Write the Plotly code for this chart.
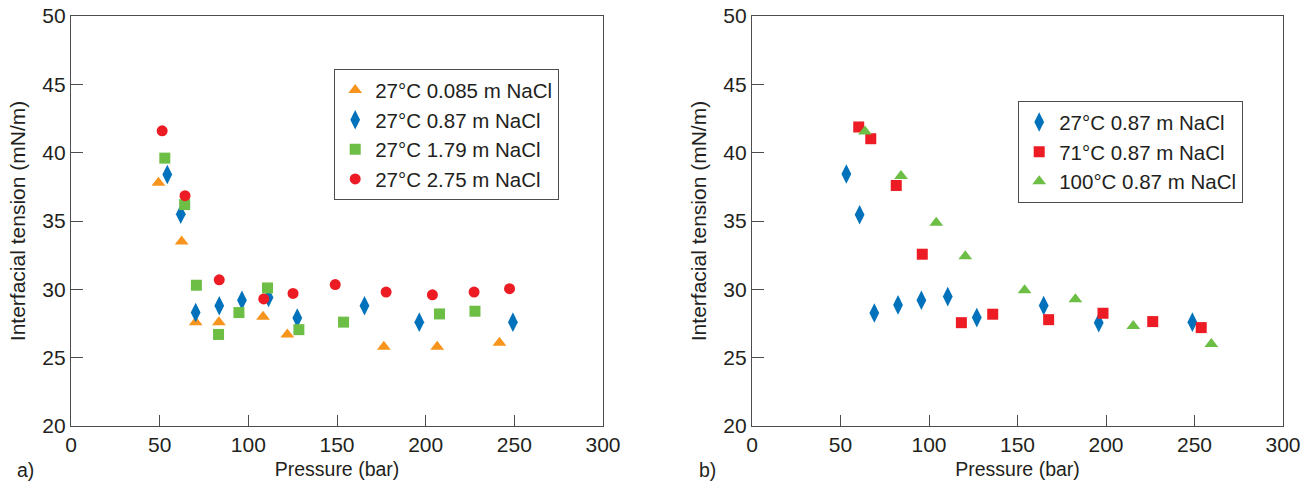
import plotly.graph_objects as go

# ---- data: panel a) ----
a_0085_p = [49.3, 62.4, 70.3, 83.4, 108.3, 122.0, 176.4, 206.5, 241.6]
a_0085_t = [37.8, 33.5, 27.6, 27.6, 28.0, 26.7, 25.8, 25.8, 26.1]

a_087_p = [54.3, 61.9, 70.3, 83.6, 96.4, 111.4, 127.6, 165.5, 196.4, 249.2]
a_087_t = [38.4, 35.5, 28.3, 28.8, 29.2, 29.4, 27.9, 28.8, 27.6, 27.6]

a_179_p = [52.9, 64.1, 70.7, 83.2, 94.7, 110.8, 128.5, 153.7, 207.8, 227.8]
a_179_t = [39.6, 36.2, 30.3, 26.7, 28.3, 30.1, 27.05, 27.6, 28.2, 28.4]

a_275_p = [51.4, 64.3, 83.6, 108.7, 125.2, 149.0, 177.7, 203.8, 227.3, 247.3]
a_275_t = [41.6, 36.85, 30.7, 29.3, 29.7, 30.35, 29.8, 29.6, 29.8, 30.05]

# ---- data: panel b) ----
b_27_p = [53.3, 60.8, 69.1, 82.5, 95.7, 110.6, 127.0, 164.8, 195.9, 248.8]
b_27_t = [38.44, 35.46, 28.27, 28.86, 29.2, 29.47, 27.93, 28.81, 27.56, 27.6]

b_71_p = [60.3, 67.1, 81.5, 96.2, 118.3, 136.0, 167.6, 198.3, 226.4, 253.8]
b_71_t = [41.88, 41.02, 37.6, 32.57, 27.56, 28.18, 27.78, 28.25, 27.64, 27.2]

b_100_p = [63.8, 84.2, 104.1, 120.5, 154.0, 182.7, 215.4, 259.5]
b_100_t = [41.54, 38.3, 34.88, 32.42, 29.93, 29.28, 27.32, 26.0]

x_ticks = [0, 50, 100, 150, 200, 250, 300]
y_ticks = [20, 25, 30, 35, 40, 45, 50]

ORANGE = "#F7941D"
BLUE = "#0072BC"
GREEN = "#6CBE45"
RED = "#ED1C24"
TXT = "#231F20"
LINE = "#4D4D4F"
FONT = "Liberation Sans, Arial, sans-serif"

W, H = 1314, 487


def fx(px):
    return px / W


def fy(py):
    return 1 - py / H


fig = go.Figure()


def add(x, y, name, sym, color, size, xa, ya, legend, group):
    fig.add_trace(go.Scatter(
        x=x, y=y, mode="markers", name=name, legendgroup=group,
        marker=dict(symbol=sym, color=color, size=size, line=dict(width=0)),
        xaxis=xa, yaxis=ya, legend=legend))


add(a_0085_p, a_0085_t, "27°C 0.085 m NaCl", "triangle-up", ORANGE, 12, "x", "y", "legend", "a1")
add(a_087_p, a_087_t, "27°C 0.87 m NaCl", "diamond-tall", BLUE, 14, "x", "y", "legend", "a2")
add(a_179_p, a_179_t, "27°C 1.79 m NaCl", "square", GREEN, 11, "x", "y", "legend", "a3")
add(a_275_p, a_275_t, "27°C 2.75 m NaCl", "circle", RED, 11, "x", "y", "legend", "a4")

add(b_27_p, b_27_t, "27°C 0.87 m NaCl", "diamond-tall", BLUE, 14, "x2", "y2", "legend2", "b1")
add(b_71_p, b_71_t, "71°C 0.87 m NaCl", "square", RED, 11, "x2", "y2", "legend2", "b2")
add(b_100_p, b_100_t, "100°C 0.87 m NaCl", "triangle-up", GREEN, 12, "x2", "y2", "legend2", "b3")

ytop, ybot = fy(16), fy(426)

xaxis_common = dict(
    range=[0, 300], tickvals=x_ticks, ticks="inside", ticklen=11, tickwidth=1,
    tickcolor=LINE, showline=True, linecolor=LINE, linewidth=1.2, mirror=True,
    showgrid=False, zeroline=False, automargin=False,
    tickfont=dict(family=FONT, size=21, color=TXT),
    title=dict(text="Pressure (bar)", font=dict(family=FONT, size=19.5, color=TXT), standoff=7),
)
yaxis_common = dict(
    range=[20, 50], tickvals=y_ticks, ticks="inside", ticklen=12, tickwidth=1,
    tickcolor=LINE, showline=True, linecolor=LINE, linewidth=1.2, mirror=True,
    showgrid=False, zeroline=False, automargin=False,
    tickfont=dict(family=FONT, size=21, color=TXT),
    title=dict(text="Interfacial tension (mN/m)", font=dict(family=FONT, size=21, color=TXT), standoff=10),
)

legend_common = dict(
    bgcolor="white", bordercolor=LINE, borderwidth=1.2,
    font=dict(family=FONT, size=20.5, color=TXT),
    xanchor="left", yanchor="top", itemclick=False, tracegroupgap=0,
)

fig.update_layout(
    width=W, height=H,
    margin=dict(l=0, r=0, t=0, b=0),
    paper_bgcolor="white", plot_bgcolor="white",
    xaxis=dict(domain=[fx(71), fx(603)], anchor="y", **xaxis_common),
    yaxis=dict(domain=[ybot, ytop], anchor="x", **yaxis_common),
    xaxis2=dict(domain=[fx(752), fx(1283)], anchor="y2", **xaxis_common),
    yaxis2=dict(domain=[ybot, ytop], anchor="x2", **yaxis_common),
    legend=dict(x=fx(334), y=fy(69), xref="paper", yref="paper", **legend_common),
    legend2=dict(x=fx(1018), y=fy(101), xref="paper", yref="paper", **legend_common),
    annotations=[
        dict(text="a)", x=fx(15), y=fy(470), xref="paper", yref="paper",
             showarrow=False, xanchor="left", yanchor="middle",
             font=dict(family=FONT, size=19.5, color=TXT)),
        dict(text="b)", x=fx(697), y=fy(470), xref="paper", yref="paper",
             showarrow=False, xanchor="left", yanchor="middle",
             font=dict(family=FONT, size=19.5, color=TXT)),
    ],
)

# remove the default 8px page margin so the figure fills the window exactly
fig.write_html(
    "out.html",
    config={"displayModeBar": False},
    post_script="document.body.style.margin='0px';document.body.style.overflow='hidden';",
)
